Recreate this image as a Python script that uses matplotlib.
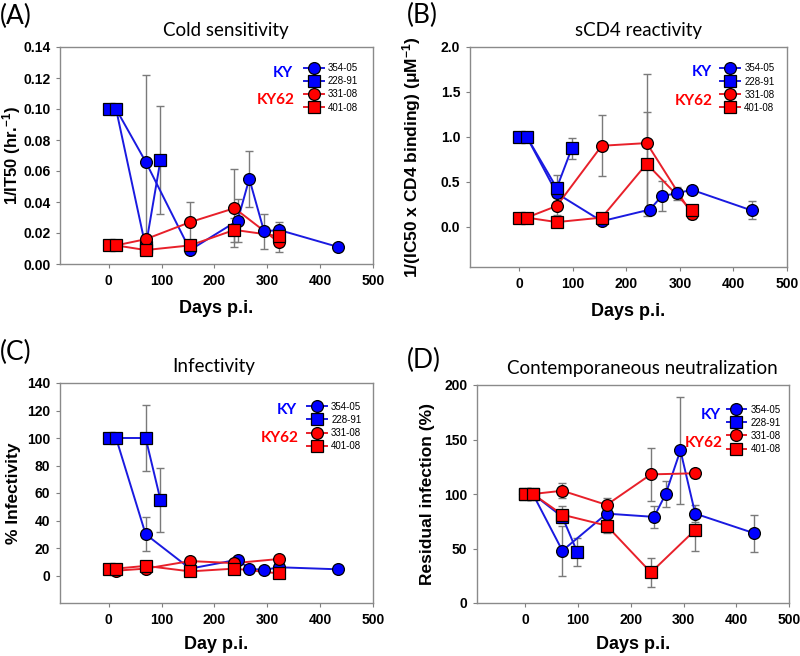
#!/usr/bin/env python3
"""
Four-panel time course: cold sensitivity, sCD4 reactivity,
infectivity and contemporaneous neutralization for KY / KY62 viruses.
"""

import numpy as np
import matplotlib
matplotlib.use('Agg')
import matplotlib.pyplot as plt
from matplotlib.lines import Line2D

plt.rcParams['font.family'] = ['Liberation Sans', 'DejaVu Sans']
plt.rcParams['mathtext.fontset'] = 'custom'
plt.rcParams['mathtext.bf'] = 'Liberation Sans:bold'
plt.rcParams['mathtext.rm'] = 'Liberation Sans:bold'
plt.rcParams['mathtext.default'] = 'bf'

# --- data (days post infection) ---
days_354 = [0, 14, 70, 154, 244, 266, 294, 322, 434]
days_228 = [0, 14, 70, 98]
days_331 = [0, 14, 70, 154, 238, 322]
days_401 = [0, 14, 70, 154, 238, 322]

series_names = ['354-05', '228-91', '331-08', '401-08']

# (A) cold sensitivity, 1/IT50
cold_354 = [0.100, 0.100, 0.066, 0.009, 0.028, 0.055, 0.021, 0.022, 0.011]
cold_354_err = [0, 0, 0.056, 0, 0.014, 0.018, 0.011, 0.005, 0]
cold_228 = [0.100, 0.100, 0.011, 0.067]
cold_228_err = [0, 0, 0, 0.035]
cold_331 = [0.012, 0.012, 0.016, 0.027, 0.036, 0.014]
cold_331_err = [0, 0, 0, 0.013, 0.025, 0.006]
cold_401 = [0.012, 0.012, 0.009, 0.012, 0.022, 0.018]
cold_401_err = [0, 0, 0, 0, 0.008, 0]

# (B) sCD4 reactivity
scd4_354 = [1.00, 1.00, 0.37, 0.06, 0.19, 0.34, 0.37, 0.41, 0.18]
scd4_354_err = [0, 0, 0, 0, 0, 0.17, 0.07, 0, 0.10]
scd4_228 = [1.00, 1.00, 0.43, 0.87]
scd4_228_err = [0, 0, 0.15, 0.12]
scd4_331 = [0.10, 0.10, 0.23, 0.90, 0.93, 0.14]
scd4_331_err = [0, 0, 0.10, 0.34, 0.77, 0.05]
scd4_401 = [0.10, 0.10, 0.05, 0.10, 0.70, 0.18]
scd4_401_err = [0, 0, 0, 0, 0.58, 0]

# (C) % infectivity
inf_354 = [100, 100, 30, 5, 11.5, 5, 4, 6, 4.5]
inf_354_err = [0, 0, 12.5, 0, 0, 0, 0, 0, 0]
inf_228 = [100, 100, 100, 55]
inf_228_err = [0, 0, 24, 23]
inf_331 = [5, 3.5, 5, 10.5, 9, 12]
inf_331_err = [0, 0, 0, 0, 0, 0]
inf_401 = [5, 5, 7, 3, 5, 1.5]
inf_401_err = [0, 0, 0, 0, 0, 0]

# (D) residual infection (%)
neu_354 = [100, 100, 48, 82, 79, 100, 140, 82, 64]
neu_354_err = [0, 0, 23, 0, 10, 12, 49, 8, 17]
neu_228 = [100, 100, 79, 47]
neu_228_err = [0, 0, 0, 13]
neu_331 = [100, 100, 103, 90, 118, 119]
neu_331_err = [0, 0, 7, 6, 24, 4]
neu_401 = [100, 100, 81, 71, 28, 67]
neu_401_err = [0, 0, 8, 7, 13, 19]

BLUE = '#0000ff'
RED = '#ff0000'
LINE_BLUE = '#1a1ae0'
LINE_RED = '#e8202a'
styles = [(BLUE, LINE_BLUE, 'o'), (BLUE, LINE_BLUE, 's'),
          (RED, LINE_RED, 'o'), (RED, LINE_RED, 's')]

fig = plt.figure(figsize=(8, 6.56), dpi=100)


def px_axes(left, top, right, bottom):
    W, H = 800.0, 656.0
    return fig.add_axes([left / W, 1 - bottom / H, (right - left) / W, (bottom - top) / H])


def draw_panel(ax, days_list, vals_list, err_list, ylim, yticks, yfmt,
               title, ylabel, xlabel, leg_x, leg_y, ky_x, ky_y, ky62_y,
               title_x=0.5, ylab_x=-0.135, ylab_size=12.5, xlab_pad=9):
    for i, (d, v, e) in enumerate(zip(days_list, vals_list, err_list)):
        fc, lc, mk = styles[i]
        d = np.array(d, dtype=float)
        v = np.array(v, dtype=float)
        e = np.array(e, dtype=float)
        has = e > 0
        if has.any():
            ax.errorbar(d[has], v[has], yerr=e[has], fmt='none', ecolor='#7a7a7a',
                        elinewidth=1.0, capsize=2.8, capthick=1.0, zorder=1)
        ax.plot(d, v, color=lc, lw=1.4, zorder=2)
        ax.plot(d, v, linestyle='none', marker=mk, markersize=8.5 if mk == 'o' else 8,
                markerfacecolor=fc, markeredgecolor='black', markeredgewidth=0.9, zorder=3 + i)

    ax.set_xlim(-92, 500)
    ax.set_xticks([0, 100, 200, 300, 400, 500])
    ax.set_ylim(*ylim)
    ax.set_yticks(yticks)
    ax.set_yticklabels([yfmt.format(t) for t in yticks])
    for lab in ax.get_xticklabels() + ax.get_yticklabels():
        lab.set_fontweight('bold')
        lab.set_fontsize(10)
    ax.tick_params(direction='out', length=3, width=0.8, color='#7f7f7f', pad=4)
    for sp in ax.spines.values():
        sp.set_color('#8a8a8a')
        sp.set_linewidth(1.0)

    ax.set_title(title, fontsize=13.5, family=['Lato', 'DejaVu Sans'], pad=8, x=title_x)
    ax.set_ylabel(ylabel, fontsize=ylab_size, fontweight='bold')
    ax.yaxis.set_label_coords(ylab_x, 0.5)
    ax.set_xlabel(xlabel, fontsize=13, fontweight='bold', labelpad=xlab_pad)

    handles = []
    for fc, lc, mk in styles:
        handles.append(Line2D([], [], color=lc, lw=1.4, marker=mk,
                              markersize=8.5 if mk == 'o' else 8, markerfacecolor=fc,
                              markeredgecolor='black', markeredgewidth=0.9))
    ax.legend(handles, series_names, loc='upper left', bbox_to_anchor=(leg_x, leg_y),
              frameon=False, fontsize=7, handlelength=2.0, handletextpad=0.45,
              labelspacing=0.32, borderpad=0, borderaxespad=0)

    ax.text(ky_x, ky_y, 'KY', transform=ax.transAxes, ha='right', va='center',
            color=BLUE, fontsize=11, fontweight='bold', family=['Lato', 'DejaVu Sans'])
    ax.text(ky_x + 0.005, ky62_y, 'KY62', transform=ax.transAxes, ha='right', va='center',
            color=RED, fontsize=11, fontweight='bold', family=['Lato', 'DejaVu Sans'])


axA = px_axes(60, 47, 373, 264)
draw_panel(axA, [days_354, days_228, days_331, days_401],
           [cold_354, cold_228, cold_331, cold_401],
           [cold_354_err, cold_228_err, cold_331_err, cold_401_err],
           (0, 0.14), [0, 0.02, 0.04, 0.06, 0.08, 0.10, 0.12, 0.14], '{:.2f}',
           'Cold sensitivity', r'1/IT50 (hr.$^{-1}$)', 'Days p.i.',
           0.78, 0.925, 0.745, 0.88, 0.756, title_x=0.53, ylab_x=-0.118, ylab_size=12)

axB = px_axes(470, 47, 787, 267)
draw_panel(axB, [days_354, days_228, days_331, days_401],
           [scd4_354, scd4_228, scd4_331, scd4_401],
           [scd4_354_err, scd4_228_err, scd4_331_err, scd4_401_err],
           (-0.45, 2.0), [0, 0.5, 1.0, 1.5, 2.0], '{:.1f}',
           'sCD4 reactivity', r'1/(IC50 x CD4 binding) ($\mu$M$^{-1}$)', 'Days p.i.',
           0.79, 0.925, 0.762, 0.885, 0.755, title_x=0.53, ylab_x=-0.148)

axC = px_axes(60, 383, 373, 603)
draw_panel(axC, [days_354, days_228, days_331, days_401],
           [inf_354, inf_228, inf_331, inf_401],
           [inf_354_err, inf_228_err, inf_331_err, inf_401_err],
           (-20, 140), [0, 20, 40, 60, 80, 100, 120, 140], '{:.0f}',
           'Infectivity', '% Infectivity', 'Day p.i.',
           0.79, 0.915, 0.757, 0.879, 0.748, title_x=0.49, ylab_x=-0.125, xlab_pad=7)

axD = px_axes(477, 385, 789, 603)
draw_panel(axD, [days_354, days_228, days_331, days_401],
           [neu_354, neu_228, neu_331, neu_401],
           [neu_354_err, neu_228_err, neu_331_err, neu_401_err],
           (0, 200), [0, 50, 100, 150, 200], '{:.0f}',
           'Contemporaneous neutralization', 'Residual infection (%)', 'Days p.i.',
           0.80, 0.91, 0.782, 0.862, 0.735, title_x=0.53, ylab_x=-0.135, xlab_pad=7)

# panel letters
for x, y, s in [(0, 16, '(A)'), (407, 15, '(B)'), (0, 352, '(C)'), (407, 360, '(D)')]:
    fig.text(x / 800.0, 1 - y / 656.0, s, ha='left', va='center', fontsize=19,
             family=['Lato', 'DejaVu Sans'])

fig.savefig('out.png', dpi=100)
